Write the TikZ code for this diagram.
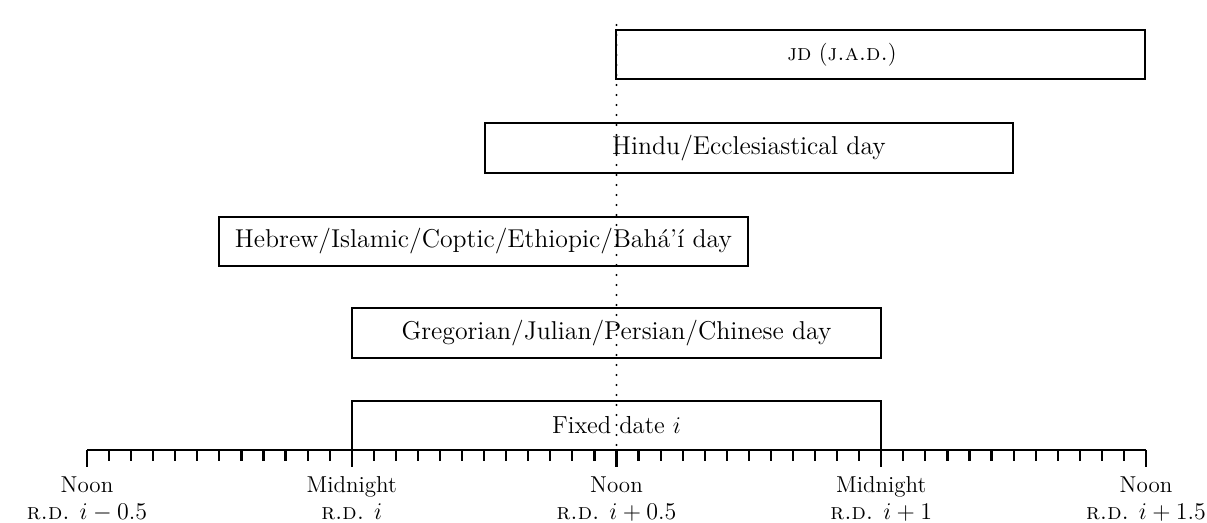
\documentclass[tikz,border=0pt]{standalone}
\usepackage{amsmath}
\begin{document}
\begin{tikzpicture}[x=0.5pt,y=-0.5pt,
  daybox/.style={draw, line width=1.1pt, inner sep=0pt, minimum height=24.75pt, font=\fontsize{12.9}{15}\selectfont},
  boxtext/.style={inner sep=0pt, font=\fontsize{11.5}{14}\selectfont},
  ticklabel/.style={inner sep=0pt, anchor=base, font=\fontsize{11.5}{13}\selectfont},
  axisline/.style={line width=1.1pt},
  noonline/.style={line width=1.1pt, line cap=round, dash pattern=on 0pt off 5pt}]
\useasboundingbox (0,0) rectangle (1207,523);
% boxes
\node[daybox, minimum width=264.5pt] (jd) at (880.5,54.5) {};
\node[boxtext] (jdtext) at (842,54.5) {\textsc{jd} (\textsc{j.a.d.})};
\node[daybox, minimum width=264pt] (hindu) at (749,148) {Hindu/Ecclesiastical day};
\node[daybox, minimum width=264.5pt] (hebrew) at (483.5,241.5) {Hebrew/Islamic/Coptic/Ethiopic/Bah\'a'\'{\i} day};
\node[daybox, minimum width=264.75pt] (greg) at (616.5,333) {Gregorian/Julian/Persian/Chinese day};
\node[daybox, minimum width=264.75pt, font=\fontsize{12.3}{15}\selectfont] (fixed) at (616.5,425.5) {Fixed date $i$};
% axis
\coordinate (a0) at (87,450);
\coordinate (a4) at (1146,450);
\draw[axisline] (a0) -- (a4);
\foreach \k in {1,...,47}{
  \draw[axisline] (87+\k*22.0625,450) -- ++(0,11);
}
\foreach \k/\top/\bot in {0/Noon/{\textsc{r.d.} $i-0.5$},1/Midnight/{\textsc{r.d.} $i$},2/Noon/{\textsc{r.d.} $i+0.5$},3/Midnight/{\textsc{r.d.} $i+1$},4/Noon/{\textsc{r.d.} $i+1.5$}}{
  \draw[axisline] (87+\k*264.75,450) -- ++(0,17);
  \node[ticklabel] (top\k) at (87+\k*264.75,493) {\top};
  \node[ticklabel] (bot\k) at (87+\k*264.75,519.5) {\bot};
}
% noon line
\coordinate (ntop) at (616.5,25);
\coordinate (nbot) at (616.5,450);
\draw[noonline] (ntop) -- (nbot);
\end{tikzpicture}
\end{document}
